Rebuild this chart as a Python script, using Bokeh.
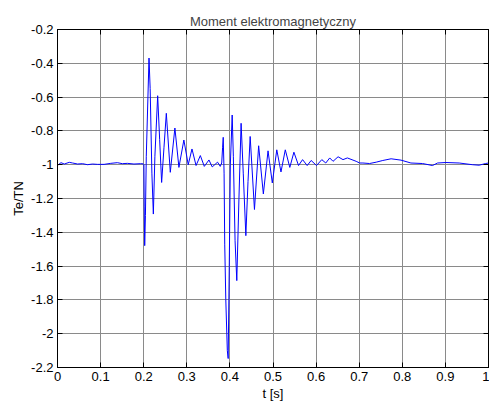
from bokeh.plotting import figure
from bokeh.models import LinearAxis, FixedTicker, CustomJSTickFormatter, Range1d, ColumnDataSource
from bokeh.embed import file_html
from bokeh.resources import INLINE

# ---- data ----
t = [0.0, 0.002, 0.0081, 0.0158, 0.0273, 0.035, 0.0466, 0.0581, 0.0697, 0.0812, 0.0928,
     0.1081, 0.1236, 0.1389, 0.1505, 0.162, 0.1774, 0.1928, 0.199,
     0.2005, 0.2012, 0.2023, 0.204, 0.206, 0.2123, 0.215, 0.219, 0.2224, 0.226, 0.2324,
     0.237, 0.2416, 0.247, 0.2525, 0.2617, 0.2724, 0.2817, 0.2932, 0.3033, 0.312, 0.3215,
     0.3314, 0.3406, 0.3514, 0.359, 0.3714, 0.3776, 0.381, 0.383, 0.3845, 0.3865, 0.388,
     0.3905, 0.394, 0.396, 0.3985, 0.401, 0.4053, 0.408, 0.412, 0.416, 0.421, 0.426, 0.431,
     0.437, 0.442, 0.447, 0.457, 0.4667, 0.4776, 0.4885, 0.4984, 0.5088, 0.5185, 0.5285,
     0.539, 0.5485, 0.5593, 0.5686, 0.5793, 0.5885, 0.601, 0.6132, 0.6224, 0.6316, 0.6393,
     0.651, 0.6624, 0.6725, 0.693, 0.701, 0.7086, 0.724, 0.7395, 0.7548, 0.774, 0.797,
     0.82, 0.847, 0.87, 0.8818, 0.901, 0.932, 0.9626, 0.978, 0.9935, 1.0]
te = [-0.995, -1.0, -0.988, -0.996, -0.986, -0.99, -0.996, -0.994, -1.0, -0.996, -0.998,
      -0.998, -0.992, -0.988, -0.994, -0.992, -0.996, -0.994, -0.995,
      -1.0, -1.25, -1.479, -1.3, -0.95, -0.369, -0.55, -1.05, -1.292, -0.95, -0.592,
      -0.85, -1.105, -0.9, -0.696, -1.045, -0.783, -1.016, -0.854, -1.0, -0.907, -1.005,
      -0.946, -1.01, -0.972, -1.013, -0.985, -1.01, -0.99, -0.9, -0.838, -1.05, -1.47,
      -1.8, -2.1, -2.147, -1.6, -1.0, -0.706, -0.95, -1.45, -1.686, -1.2, -0.755, -1.05,
      -1.42, -1.1, -0.833, -1.265, -0.888, -1.173, -0.918, -1.108, -0.912, -1.043, -0.912,
      -1.016, -0.926, -1.005, -0.97, -1.005, -0.975, -1.005, -0.97, -0.99, -0.96, -0.98,
      -0.953, -0.97, -0.96, -0.98, -0.99, -0.99, -0.993, -0.985, -0.975, -0.965, -0.973,
      -0.99, -0.993, -1.005, -0.99, -0.987, -0.99, -1.0, -1.003, -0.993, -0.99]
x_ticks = [0, 0.1, 0.2, 0.3, 0.4, 0.5, 0.6, 0.7, 0.8, 0.9, 1.0]
y_ticks = [-2.2, -2.0, -1.8, -1.6, -1.4, -1.2, -1.0, -0.8, -0.6, -0.4, -0.2]
title_text = "Moment elektromagnetyczny"
x_label = "t [s]"
y_label = "Te/TN"

FONT = "Liberation Sans"
FS = "13px"

p = figure(width=489, height=404, output_backend="svg", toolbar_location=None,
           x_range=Range1d(0, 1), y_range=Range1d(-2.2, -0.2),
           min_border_left=57, min_border_right=1, min_border_top=29, min_border_bottom=37)
p.background_fill_color = "white"
p.border_fill_color = "white"
p.outline_line_color = "black"
p.outline_line_width = 1

p.title.text = title_text
p.title.align = "center"
p.title.text_font = FONT
p.title.text_font_size = FS
p.title.text_font_style = "normal"
p.title.standoff = 2

src = ColumnDataSource(dict(t=t, te=te))
p.line("t", "te", source=src, line_color="#0000ff", line_width=1)

fmt = CustomJSTickFormatter(code="var s = tick.toFixed(1); return s.endsWith('.0') ? s.slice(0, -2) : s;")
blank = CustomJSTickFormatter(code="return '';")

for ax, ticks in ((p.xaxis[0], x_ticks), (p.yaxis[0], y_ticks)):
    ax.ticker = FixedTicker(ticks=ticks)
    ax.formatter = fmt
    ax.major_tick_in = 5
    ax.major_tick_out = 0
    ax.minor_tick_line_color = None
    ax.axis_line_color = "black"
    ax.major_tick_line_color = "black"
    ax.major_label_text_font = FONT
    ax.major_label_text_font_size = FS
    ax.major_label_text_color = "black"
    ax.axis_label_text_font = FONT
    ax.axis_label_text_font_size = FS
    ax.axis_label_text_font_style = "normal"
    ax.axis_label_text_color = "black"
    ax.major_label_standoff = 4
    ax.axis_label_standoff = 2

p.xaxis.axis_label = x_label
p.yaxis.axis_label = y_label

top = LinearAxis(ticker=FixedTicker(ticks=x_ticks), formatter=blank, major_tick_in=5,
                 major_tick_out=0, minor_tick_line_color=None,
                 axis_line_color="black", major_label_standoff=0)
right = LinearAxis(ticker=FixedTicker(ticks=y_ticks), formatter=blank, major_tick_in=5,
                   major_tick_out=0, minor_tick_line_color=None,
                   axis_line_color="black", major_label_standoff=0)
p.add_layout(top, "above")
p.add_layout(right, "right")

p.xgrid.ticker = FixedTicker(ticks=x_ticks)
p.ygrid.ticker = FixedTicker(ticks=y_ticks)
for g in (p.xgrid[0], p.ygrid[0]):
    g.grid_line_color = "#8a8a8a"
    g.grid_line_width = 1
    g.grid_line_alpha = 1

open("out.html", "w").write(file_html(p, INLINE))
